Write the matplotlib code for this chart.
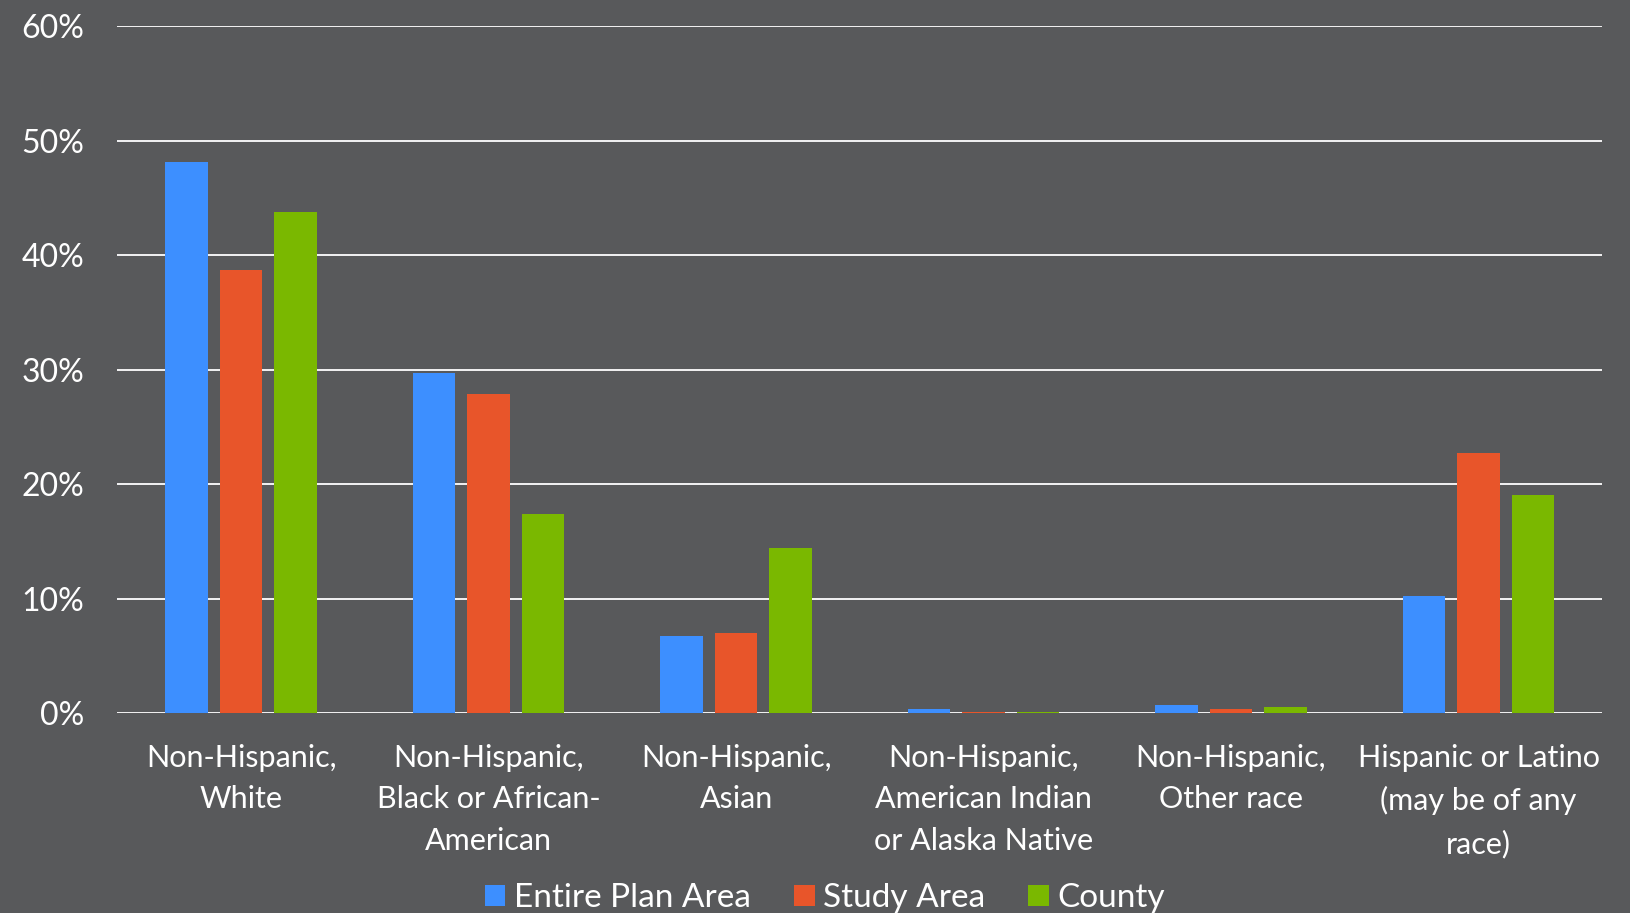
import matplotlib
matplotlib.use("Agg")
import matplotlib.pyplot as plt
from matplotlib.patches import Patch
import numpy as np

# categories and values (percent)
categories = ["Non-Hispanic,\nWhite",
              "Non-Hispanic,\nBlack or African-\nAmerican",
              "Non-Hispanic,\nAsian",
              "Non-Hispanic,\nAmerican Indian\nor Alaska Native",
              "Non-Hispanic,\nOther race",
              "Hispanic or Latino\n(may be of any\nrace)"]
series_names = ["Entire Plan Area", "Study Area", "County"]
plan_area = [48.1, 29.7, 6.7, 0.35, 0.73, 10.2]
study_area = [38.7, 27.9, 7.0, 0.1, 0.38, 22.7]
county = [43.8, 17.4, 14.4, 0.05, 0.55, 19.0]
y_ticks = [0, 10, 20, 30, 40, 50, 60]

bg = "#58595B"
colors = ["#3D8FFF", "#E8552A", "#7AB800"]

plt.rcParams['font.family'] = ['Lato', 'DejaVu Sans']

fig = plt.figure(figsize=(16.3, 9.13), dpi=100, facecolor=bg)
ax = fig.add_axes([0.072, 0.219, 0.911, 0.7525], facecolor=bg)

x = np.arange(len(categories))
width = 0.172
step = 0.2206
for i, (vals, c) in enumerate(zip([plan_area, study_area, county], colors)):
    ax.bar(x + (i - 1) * step, vals, width, color=c, zorder=3)

ax.set_xlim(-0.5, len(categories) - 0.5)
ax.set_ylim(0, 60)
ax.set_yticks(y_ticks)
ax.set_yticklabels([f"{t}%" for t in y_ticks], fontsize=23)
ax.set_xticks(x)
ax.set_xticklabels(categories, linespacing=1.6, fontsize=22)
ax.grid(axis='y', color='white', linewidth=1.3, zorder=1)
ax.set_axisbelow(True)
for s in ax.spines.values():
    s.set_visible(False)
ax.tick_params(axis='both', length=0, colors='white')
ax.tick_params(axis='x', pad=22)
ax.tick_params(axis='y', pad=24)
for lbl in ax.get_yticklabels():
    lbl.set_horizontalalignment('right')

handles = [Patch(facecolor=c, edgecolor='none') for c in colors]
leg = fig.legend(handles, series_names, loc='center', bbox_to_anchor=(0.506, 0.016),
                 ncol=3, frameon=False, fontsize=24, handlelength=0.62,
                 handleheight=0.62, handletextpad=0.25, columnspacing=1.3)
for t in leg.get_texts():
    t.set_color('white')

fig.savefig("out.png", dpi=100, facecolor=bg)
